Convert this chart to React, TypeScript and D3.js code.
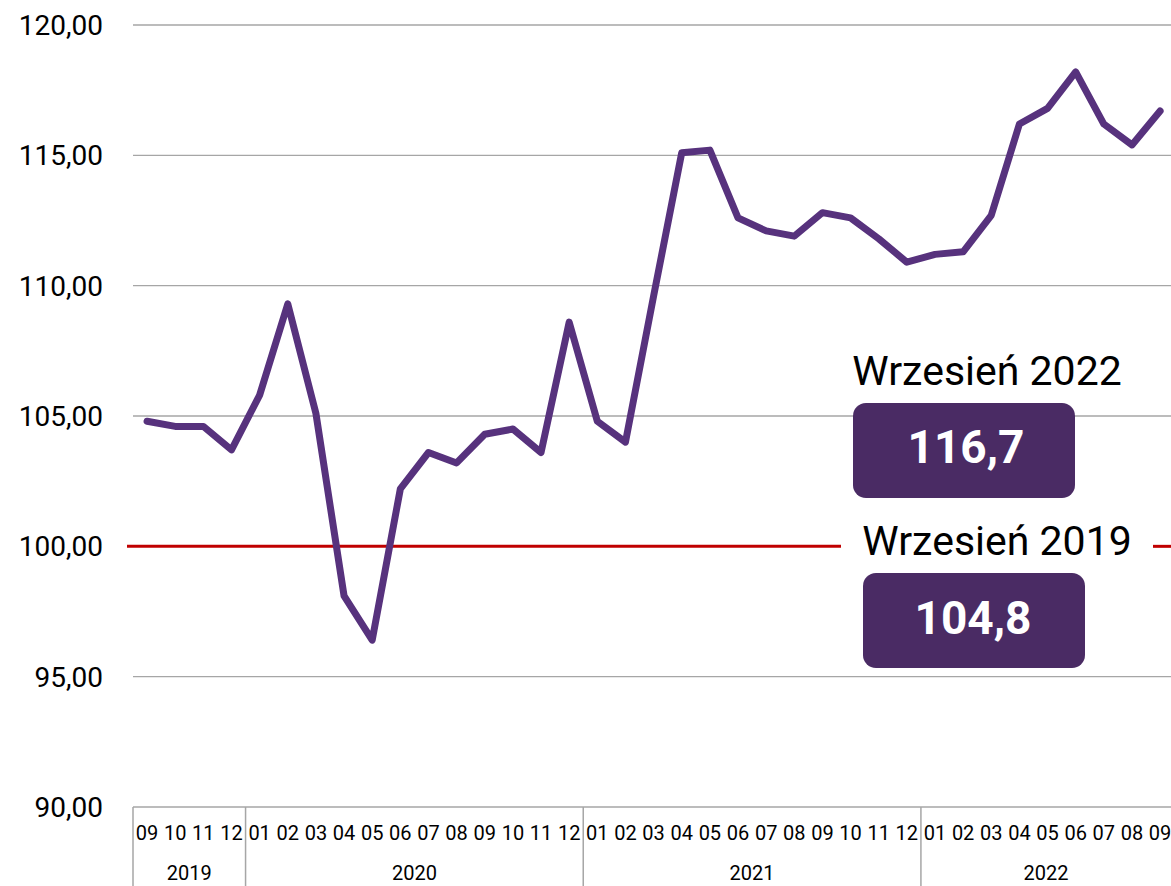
import React from "react";
import * as d3 from "d3";

const years = ["2019", "2020", "2021", "2022"];
const yearMonths = [
  ["09", "10", "11", "12"],
  ["01", "02", "03", "04", "05", "06", "07", "08", "09", "10", "11", "12"],
  ["01", "02", "03", "04", "05", "06", "07", "08", "09", "10", "11", "12"],
  ["01", "02", "03", "04", "05", "06", "07", "08", "09"],
];
const values = [
  104.8, 104.6, 104.6, 103.7,
  105.8, 109.3, 105.1, 98.1, 96.4, 102.2, 103.6, 103.2, 104.3, 104.5, 103.6, 108.6,
  104.8, 104.0, 109.6, 115.1, 115.2, 112.6, 112.1, 111.9, 112.8, 112.6, 111.8, 110.9,
  111.2, 111.3, 112.7, 116.2, 116.8, 118.2, 116.2, 115.4, 116.7,
];
const yTicks = [90, 95, 100, 105, 110, 115, 120];
const baseline = 100;
const annotations = [
  { title: "Wrzesień 2022", value: "116,7" },
  { title: "Wrzesień 2019", value: "104,8" },
];

const W = 1171;
const H = 886;
const FONT = "Roboto, 'Noto Sans', sans-serif";

export default function App() {
  const keys = yearMonths.flatMap((ms, yi) => ms.map((m) => `${years[yi]}-${m}`));
  const bw = 28.14;
  const x0 = 133;
  const x = d3.scaleBand<string>().domain(keys).range([x0, x0 + bw * keys.length]);
  const y = d3.scaleLinear().domain([90, 120]).range([807, 25]);
  const line = d3
    .line<number>()
    .x((_, i) => (x(keys[i]) as number) + x.bandwidth() / 2)
    .y((d) => y(d));

  let idx = 0;
  const yearGroups = yearMonths.map((ms, yi) => {
    const start = idx;
    idx += ms.length;
    return { year: years[yi], months: ms, start, end: idx };
  });

  const fmt = (v: number) => v.toFixed(2).replace(".", ",");
  const purple = "#57327d";
  const boxFill = "#4a2b64";

  return (
    <svg
      width={W}
      height={H}
      style={{ position: "absolute", left: 0, top: 0, background: "#fff" }}
      fontFamily={FONT}
    >
      {yTicks.map((t) => (
        <g key={t}>
          {t !== 90 && t !== baseline && (
            <line x1={x0} x2={W} y1={y(t)} y2={y(t)} stroke="#a6a6a6" strokeWidth={1.3} />
          )}
          <text x={103} y={y(t) + 10} textAnchor="end" fontSize={28} fill="#000">
            {fmt(t)}
          </text>
        </g>
      ))}
      {/* baseline red line with gap for annotation */}
      <line x1={127} x2={841} y1={y(baseline)} y2={y(baseline)} stroke="#c00000" strokeWidth={3} />
      <line x1={1153} x2={W} y1={y(baseline)} y2={y(baseline)} stroke="#c00000" strokeWidth={3} />

      {/* axis box */}
      <line x1={x0} x2={W} y1={807} y2={807} stroke="#a6a6a6" strokeWidth={1.5} />
      {yearGroups.map((g) => {
        const xs = x(keys[g.start]) as number;
        const xe = (x(keys[g.end - 1]) as number) + x.bandwidth();
        return (
          <g key={g.year}>
            <line x1={xs} x2={xs} y1={807} y2={H} stroke="#a6a6a6" strokeWidth={1.5} />
            {g.months.map((m, i) => {
              const k = keys[g.start + i];
              return (
                <text
                  key={k}
                  x={(x(k) as number) + x.bandwidth() / 2}
                  y={840}
                  textAnchor="middle"
                  fontSize={20}
                  fill="#000"
                >
                  {m}
                </text>
              );
            })}
            <text x={(xs + Math.min(xe, W)) / 2} y={880} textAnchor="middle" fontSize={20} fill="#000">
              {g.year}
            </text>
          </g>
        );
      })}

      <path
        d={line(values) || ""}
        fill="none"
        stroke={purple}
        strokeWidth={7}
        strokeLinejoin="round"
        strokeLinecap="round"
      />

      {/* annotations */}
      <text x={987} y={385} textAnchor="middle" fontSize={41} fill="#000">
        {annotations[0].title}
      </text>
      <rect x={853} y={403} width={222} height={95} rx={13} fill={boxFill} />
      <text x={966} y={463} textAnchor="middle" fontSize={46} fontWeight="bold" fill="#fff">
        {annotations[0].value}
      </text>

      <text x={997} y={555} textAnchor="middle" fontSize={41} fill="#000">
        {annotations[1].title}
      </text>
      <rect x={863} y={573} width={222} height={95} rx={13} fill={boxFill} />
      <text x={973} y={634} textAnchor="middle" fontSize={46} fontWeight="bold" fill="#fff">
        {annotations[1].value}
      </text>
    </svg>
  );
}
